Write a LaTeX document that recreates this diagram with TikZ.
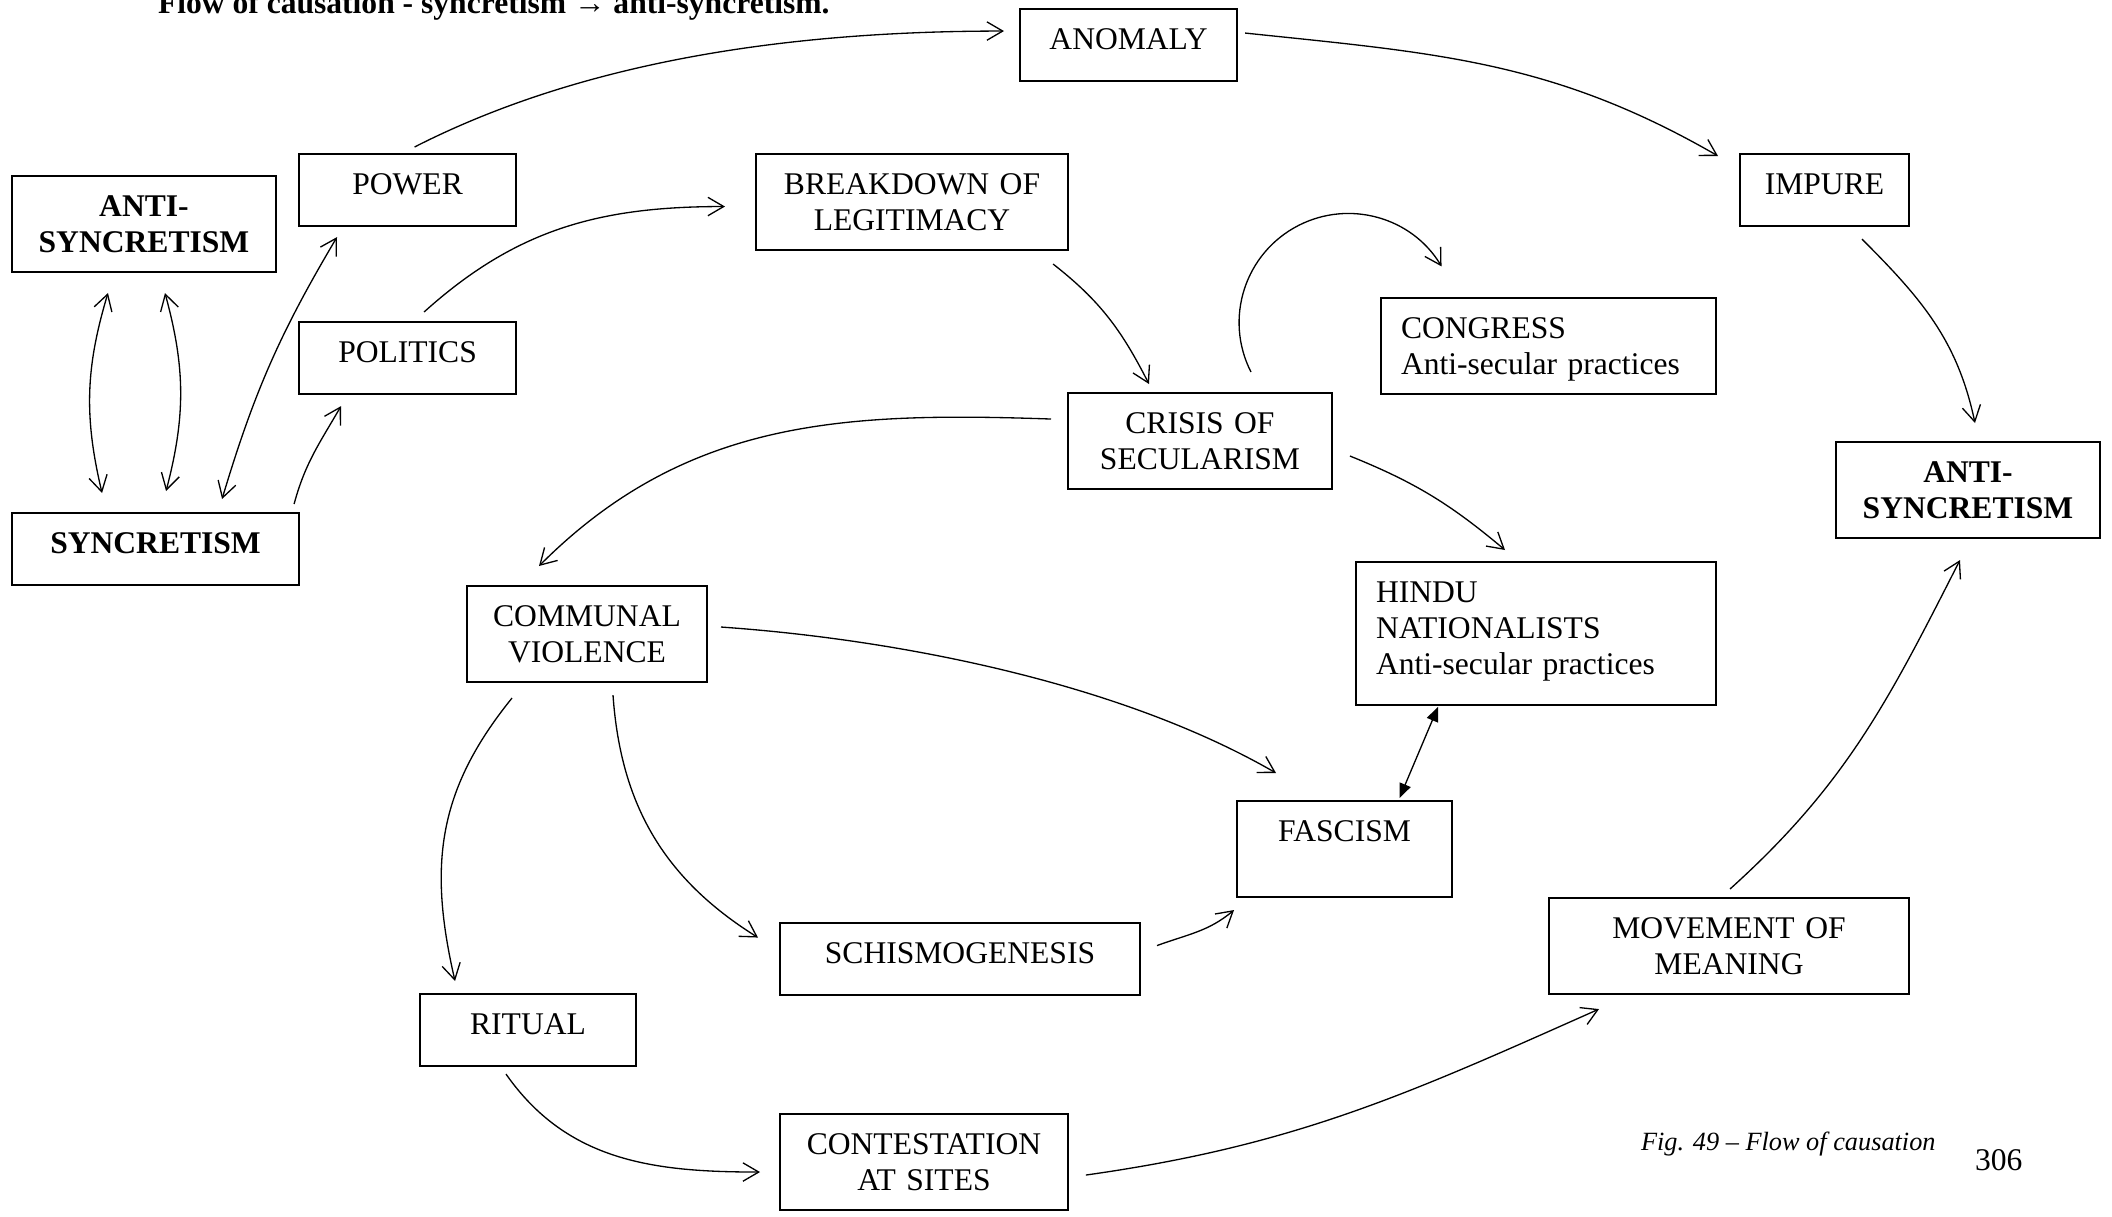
\documentclass[tikz,border=0pt]{standalone}
\usepackage{fontspec}
\setmainfont{Liberation Serif}
\usetikzlibrary{arrows.meta}

\begin{document}
\begin{tikzpicture}[x=0.38pt,y=0.38pt,inner sep=0pt,outer sep=0pt,
causebox/.style={draw,rectangle,line width=0.7pt,anchor=north west,align=center,
  font=\fontsize{12}{13.8}\selectfont,text height=15.2pt,text depth=12.2pt},
tallbox/.style={causebox,text depth=21.3pt},
strong/.style={font=\fontsize{12}{13.8}\selectfont\bfseries},
flow/.style={line width=0.5pt,-{Straight Barb[length=6pt,width=7pt]}},
twoway/.style={line width=0.5pt,{Straight Barb[length=6pt,width=7pt]}-{Straight Barb[length=6pt,width=7pt]}},
linked/.style={line width=0.5pt,{Triangle[length=5.5pt,width=4.5pt]}-{Triangle[length=5.5pt,width=4.5pt]}}]
\useasboundingbox (0,0) rectangle (2112,-1216);
\draw (158,-14) node[anchor=base west,strong] (title) {Flow of causation - syncretism → anti-syncretism.};
\draw (1020,-9) node[causebox,text width=82.5pt] (anomaly) {ANOMALY};
\draw (299,-154) node[causebox,text width=82.5pt] (power) {POWER};
\draw (12,-176) node[tallbox,strong,text width=100.3pt] (antileft) {ANTI-\\SYNCRETISM};
\draw (756,-154) node[tallbox,text width=118.6pt] (breakdown) {BREAKDOWN OF\\LEGITIMACY};
\draw (1740,-154) node[causebox,text width=64.2pt] (impure) {IMPURE};
\draw (299,-322) node[causebox,text width=82.5pt] (politics) {POLITICS};
\draw (1381,-298) node[tallbox,align=left,inner xsep=7.6pt,text width=112pt] (congress) {CONGRESS\\Anti-secular practices};
\draw (1068,-393) node[tallbox,text width=100.3pt] (crisis) {CRISIS OF\\SECULARISM};
\draw (1836,-442) node[tallbox,strong,text width=100.3pt] (antiright) {ANTI-\\SYNCRETISM};
\draw (12,-513) node[causebox,strong,text width=109.1pt] (syncretism) {SYNCRETISM};
\draw (467,-586) node[tallbox,text width=91.2pt] (communal) {COMMUNAL\\VIOLENCE};
\draw (1356,-562) node[tallbox,align=left,inner xsep=7.6pt,text width=121.6pt,text depth=39.1pt] (hindu) {HINDU\\NATIONALISTS\\Anti-secular practices};
\draw (1237,-801) node[tallbox,text width=81.7pt] (fascism) {FASCISM};
\draw (780,-923) node[causebox,text width=136.8pt] (schismo) {SCHISMOGENESIS};
\draw (1549,-898) node[tallbox,text width=136.8pt] (movement) {MOVEMENT OF\\MEANING};
\draw (420,-994) node[causebox,text width=82.1pt] (ritual) {RITUAL};
\draw (780,-1114) node[tallbox,text width=109.4pt] (contest) {CONTESTATION\\AT SITES};
% causal links
\draw[flow] ([shift={(7,7)}]power.north) to[out=27,in=180,looseness=0.85] ([shift={(-16,14)}]anomaly.west);
\draw[flow] ([shift={(8,12)}]anomaly.east) to[out=-6,in=150] ([shift={(-22,-2)}]impure.north west);
\draw[flow] ([shift={(37.5,-13)}]impure.south) to[out=-45,in=102] ([shift={(7,19)}]antiright.north);
\draw[flow] ([shift={(-15,-14)}]breakdown.south east) to[out=-38,in=117] ([shift={(-51,9)}]crisis.north);
\draw[flow] ([shift={(16.5,10)}]politics.north) to[out=42,in=180] ([shift={(-31,-4.5)}]breakdown.west);
\draw[flow] ([shift={(-5,9)}]syncretism.north east) to[out=75,in=240] ([shift={(42,-12)}]politics.south west);
\draw[twoway] ([shift={(-36,-21)}]antileft.south) to[bend right=15] ([shift={(-53.5,20)}]syncretism.north);
\draw[twoway] ([shift={(21,-21)}]antileft.south) to[bend left=15] ([shift={(10.5,22)}]syncretism.north);
\draw[twoway] ([shift={(66.5,14)}]syncretism.north) to[bend left=7] ([shift={(38,-11)}]power.south west);
\draw[flow] ([shift={(-17,22)}]crisis.west) to[out=178,in=45] ([shift={(-48,20)}]communal.north);
\draw[flow] ([shift={(51,21)}]crisis.north) arc[start angle=207,end angle=31,radius=109];
\draw[flow] ([shift={(18,-15)}]crisis.east) to[out=-22,in=140] ([shift={(-31,12)}]hindu.north);
\draw[flow] ([shift={(14,7)}]communal.east) to[out=-4,in=150,looseness=0.8] ([shift={(39,28)}]fascism.north west);
\draw[linked] ([shift={(55,3)}]fascism.north) -- ([shift={(-98,-2)}]hindu.south);
\draw[flow] ([shift={(-75,-16)}]communal.south) to[out=-129,in=103,looseness=1.05] ([shift={(-73,13)}]ritual.north);
\draw[flow] ([shift={(26,-13)}]communal.south) to[out=-86,in=148] ([shift={(-22,21.5)}]schismo.west);
\draw[flow] ([shift={(17,13.5)}]schismo.east) to[out=20,in=220] ([shift={(-3,-13)}]fascism.south west);
\draw[flow] ([shift={(-22,-8)}]ritual.south) to[out=-55,in=180] ([shift={(-20,-10)}]contest.west);
\draw[flow] ([shift={(18,-13)}]contest.east) to[out=8,in=204] ([shift={(50,-15)}]movement.south west);
\draw[flow] ([shift={(1,9)}]movement.north) to[out=42,in=243] ([shift={(-8,-22)}]antiright.south);
% caption
\draw (1641,-1150) node[anchor=base west,font=\fontsize{10}{12}\selectfont\itshape] (caption) {Fig. 49 – Flow of causation};
\draw (1975,-1170) node[anchor=base west,font=\fontsize{12}{13.8}\selectfont] (pagenum) {306};
\end{tikzpicture}
\end{document}
